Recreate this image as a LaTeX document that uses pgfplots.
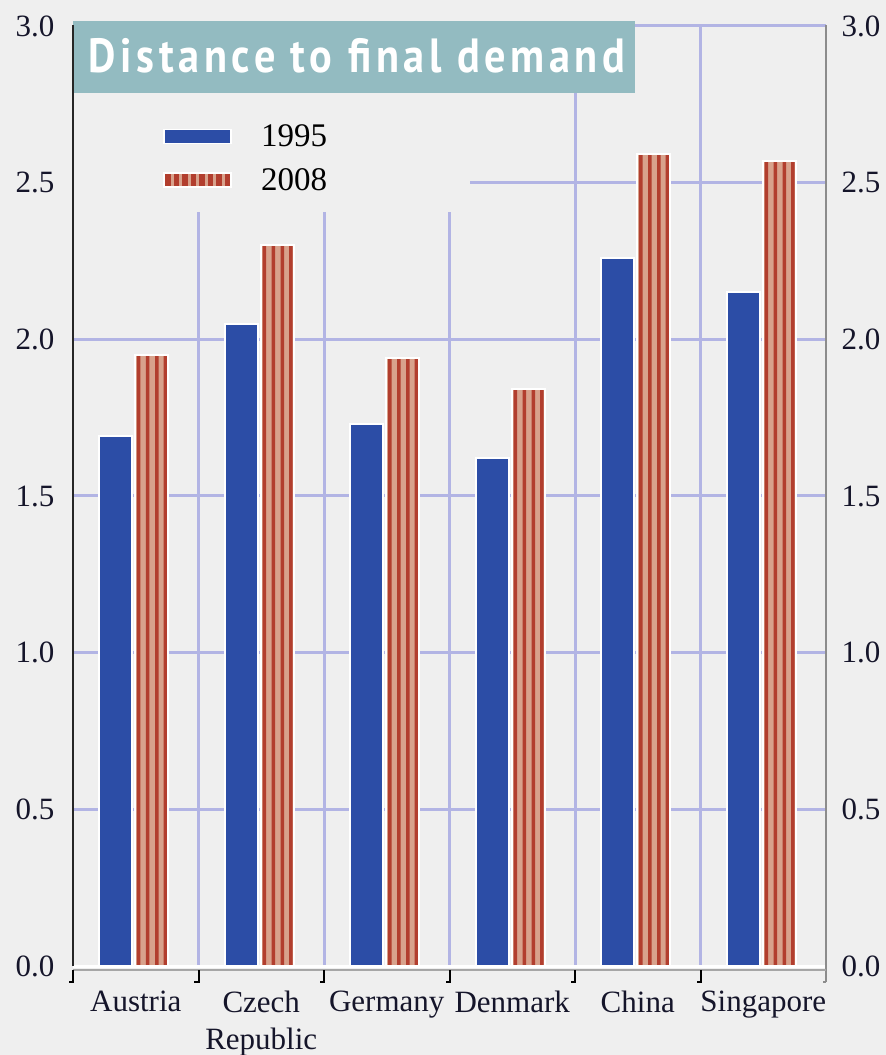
\documentclass[border=0pt]{standalone}
\usepackage{fontspec}
\setmainfont{Liberation Serif}
\newfontfamily\titlefont{PT Sans}[LetterSpace=11]
\usepackage{graphicx}
\usepackage{pgfplots}
\usepackage{pgfplotstable}
\pgfplotsset{compat=1.18}

\definecolor{bgcol}{HTML}{EFEFEF}
\definecolor{gridcol}{RGB}{178,180,228}
\definecolor{blueC}{RGB}{44,77,166}
\definecolor{salmonC}{RGB}{216,162,140}
\definecolor{stripeC}{RGB}{178,62,46}
\definecolor{titlecol}{HTML}{93BBC1}
\definecolor{labcol}{HTML}{15152A}

% distance to final demand by country (0 Austria ... 5 Singapore)
\pgfplotstableread{
x   y
0   1.69
1   2.05
2   1.73
3   1.62
4   2.26
5   2.15
}\tableA
\pgfplotstableread{
x   y
0   1.95
1   2.30
2   1.94
3   1.84
4   2.59
5   2.57
}\tableB

\pgfplotsset{
  stripe/.style={ybar, bar width=3.5pt, bar shift=#1, fill=stripeC, draw=none, forget plot},
}

\begin{document}
\begin{tikzpicture}
\fill[bgcol] (-73pt,-89pt) rectangle (813pt,966pt);
\begin{axis}[
  at={(0pt,0pt)}, anchor=south west,
  scale only axis, width=753pt, height=940pt,
  xmin=-0.5, xmax=5.5, ymin=0, ymax=3,
  clip=false,
  axis line style={draw=none},
  xtick={0,1,2,3,4,5},
  xticklabels={Austria,{Czech\\Republic},Germany,Denmark,China,Singapore},
  xticklabel style={align=center, font=\fontsize{31}{37}\selectfont, yshift=-21pt, text=labcol},
  minor xtick={0.5,1.5,2.5,3.5,4.5},
  xminorgrids=true,
  ytick={0,0.5,1,1.5,2,2.5,3},
  yticklabels={0.0,0.5,1.0,1.5,2.0,2.5,3.0},
  ymajorgrids=true,
  major grid style={gridcol, line width=3pt},
  minor grid style={gridcol, line width=3pt},
  major tick length=0pt, minor tick length=0pt,
  yticklabel style={font=\fontsize{31}{36}\selectfont, xshift=-15pt, text=labcol},
  legend style={at={(0.1195,0.8948)}, anchor=north west, draw=none, fill=none,
    inner sep=0pt, row sep=20pt, column sep=29pt,
    font=\fontsize{33}{38}\selectfont, nodes={inner sep=0pt}},
  legend cell align=left,
]
% backdrop behind the legend, hiding the grid there
\fill[bgcol] (axis cs:-0.5,2.786) rectangle (axis cs:2.663,2.406);
\draw[white, line width=3pt] (axis cs:-0.5,0) -- (axis cs:5.5,0);

% 1995
\addplot[ybar, bar width=33pt, bar shift=-20pt, fill=blueC, draw=white, line width=2pt,
  legend image code/.code={\draw[fill=blueC, draw=white, line width=1.5pt] (0pt,-7pt) rectangle (67pt,7pt);}]
  table[x=x, y=y] {\tableA};
\addlegendentry{1995}

% 2008: salmon base, red pinstripes, white outline
\addplot[ybar, bar width=33pt, bar shift=16pt, fill=salmonC, draw=none, forget plot]
  table[x=x, y=y] {\tableB};
\addplot[stripe=3pt]    table[x=x, y=y] {\tableB};
\addplot[stripe=12pt]   table[x=x, y=y] {\tableB};
\addplot[stripe=21pt]   table[x=x, y=y] {\tableB};
\addplot[stripe=29.5pt] table[x=x, y=y] {\tableB};
\addplot[ybar, bar width=33pt, bar shift=16pt, fill=none, draw=white, line width=2pt,
  legend image code/.code={%
    \fill[salmonC] (0pt,-7pt) rectangle (67pt,7pt);
    \foreach \s in {2,10.5,19,27.5,36,44.5,53,61.5}{\fill[stripeC] (\s pt,-7pt) rectangle ++(3.5pt,14pt);}
    \draw[white, line width=1.5pt] (0pt,-7pt) rectangle (67pt,7pt);}]
  table[x=x, y=y] {\tableB};
\addlegendentry{2008}

% title panel
\fill[titlecol] (axis cs:-0.5,3.016) rectangle (axis cs:3.978,2.786);
\node[text=white, inner sep=0pt] at (axis cs:1.763,2.905)
  {\scalebox{0.88}[1]{\titlefont\bfseries\fontsize{48}{50}\selectfont Distance to final demand}};

% frame
\draw[black!85, line width=2.5pt] (axis cs:-0.5,0) -- (axis cs:-0.5,3.003);
\draw[black!45, line width=2pt] ([yshift=-16pt]axis cs:5.5,0) -- (axis cs:5.5,3.003);
\draw[black!45, line width=1.5pt] ([yshift=-16pt]axis cs:5.5,0) -- ([xshift=-3pt,yshift=-16pt]axis cs:5.5,0);
\draw[black!35, line width=2.5pt] ([yshift=-4pt]axis cs:-0.5,0) -- ([yshift=-4pt]axis cs:5.5,0);
\pgfplotsinvokeforeach{-0.5,0.5,1.5,2.5,3.5,4.5}{
  \draw[black, line width=2pt] ([yshift=-4pt]axis cs:#1,0) -- ([yshift=-16pt]axis cs:#1,0)
    -- ([xshift=-4pt,yshift=-16pt]axis cs:#1,0);
}
\end{axis}

% right-hand scale
\begin{axis}[
  at={(0pt,0pt)}, anchor=south west,
  scale only axis, width=753pt, height=940pt,
  xmin=-0.5, xmax=5.5, ymin=0, ymax=3,
  axis x line=none, axis y line*=right,
  y axis line style={draw=none},
  ytick={0,0.5,1,1.5,2,2.5,3},
  yticklabels={0.0,0.5,1.0,1.5,2.0,2.5,3.0},
  major tick length=0pt,
  yticklabel style={font=\fontsize{31}{36}\selectfont, xshift=12pt, text=labcol},
]
\end{axis}
\pgfresetboundingbox
\useasboundingbox (-73pt,-89pt) rectangle (813pt,966pt);
\end{tikzpicture}
\end{document}
